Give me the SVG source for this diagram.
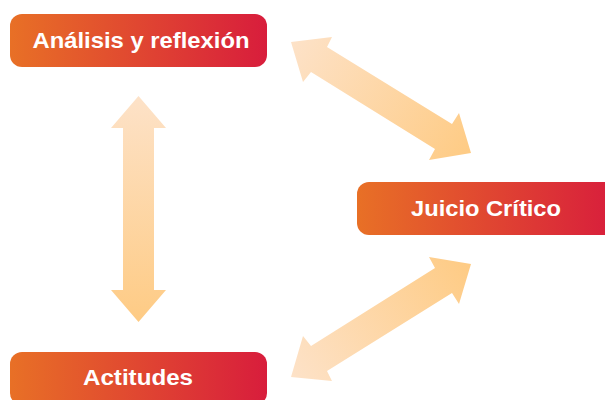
<svg xmlns="http://www.w3.org/2000/svg" width="605" height="400" viewBox="0 0 605 400">
<defs>
<linearGradient id="boxg" x1="0" y1="0" x2="1" y2="0">
<stop offset="0" stop-color="#e87026"/>
<stop offset="1" stop-color="#d81d3c"/>
</linearGradient>
<linearGradient id="av" gradientUnits="userSpaceOnUse" x1="138" y1="96" x2="138" y2="322">
<stop offset="0" stop-color="#fde2c8"/>
<stop offset="1" stop-color="#fecb84"/>
</linearGradient>
<linearGradient id="a1" gradientUnits="userSpaceOnUse" x1="291" y1="42" x2="471" y2="153">
<stop offset="0" stop-color="#fde2c8"/>
<stop offset="1" stop-color="#fecb84"/>
</linearGradient>
<linearGradient id="a2" gradientUnits="userSpaceOnUse" x1="291" y1="377" x2="471" y2="264">
<stop offset="0" stop-color="#fde2c8"/>
<stop offset="1" stop-color="#fecb84"/>
</linearGradient>
<style>
.box{fill:url(#boxg)}
.lbl{fill:#ffffff;font-family:"Liberation Sans",Arial,sans-serif;font-weight:bold;font-size:22px;text-anchor:middle}
</style>
</defs>
<rect width="605" height="400" fill="#ffffff"/>
<g id="connectors">
<polygon fill="url(#av)" points="138.5,96 166,128 154,128 154,290 166,290 138.5,322 111,290 123,290 123,128 111,128"/>
<polygon fill="url(#a1)" points="291,42 332,37 327,47 452,124 459,113 471,153 429,160 435,149 311,72 303,82"/>
<polygon fill="url(#a2)" points="471,264 459,304 452,293 327,371 332,381 291,377 303,336 311,346 435,268 429,257"/>
</g>
<g id="node-analisis">
<rect class="box" x="10" y="14" width="257" height="53" rx="12"/>
<text class="lbl" x="141" y="48" textLength="217" lengthAdjust="spacingAndGlyphs">Análisis y reflexión</text>
</g>
<g id="node-juicio">
<rect class="box" x="357" y="182" width="260" height="53" rx="12"/>
<text class="lbl" x="486" y="216" textLength="150" lengthAdjust="spacingAndGlyphs">Juicio Crítico</text>
</g>
<g id="node-actitudes">
<rect class="box" x="10" y="352" width="257" height="53" rx="12"/>
<text class="lbl" x="138" y="385" textLength="110" lengthAdjust="spacingAndGlyphs">Actitudes</text>
</g>
</svg>
